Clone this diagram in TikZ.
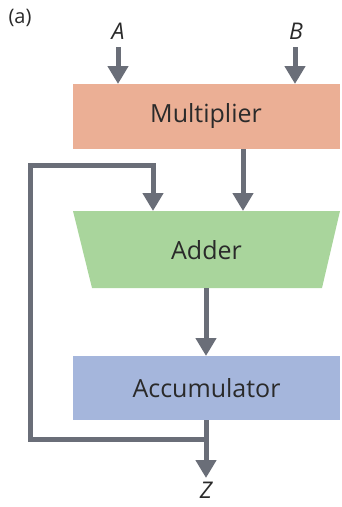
\documentclass[tikz,border=0pt]{standalone}
\usepackage{fontspec}
\setmainfont{Open Sans}
\usetikzlibrary{arrows.meta}
\definecolor{mulc}{HTML}{EBAF95}
\definecolor{addc}{HTML}{A9D59C}
\definecolor{accc}{HTML}{A5B6DC}
\definecolor{linec}{HTML}{6A6E78}
\definecolor{txtc}{HTML}{2A2A2A}
\begin{document}
\begin{tikzpicture}[x=1pt,y=-1pt,
  boxtext/.style={font=\fontsize{25}{29}\selectfont,text=txtc,inner sep=0pt},
  blockbox/.style={boxtext,minimum width=267pt,minimum height=65pt},
  lbl/.style={font=\fontsize{23}{27}\selectfont\itshape,text=txtc,inner sep=0pt},
  conn/.style={draw=linec,line width=5pt},
  arr/.style={conn,-{Triangle[width=20pt,length=18pt]}}]
\useasboundingbox (0,0) rectangle (342,507);
\node[font=\fontsize{20}{24}\selectfont,text=txtc,inner sep=0pt] (tag) at (20,18) {(a)};
\node[lbl] (A) at (118,31) {A};
\node[lbl] (B) at (296,31) {B};
\node[blockbox,fill=mulc] (mul) at (206,116.5) {Multiplier};
\fill[addc] (73,211) -- (340,211) -- (322,288) -- (92,288) -- cycle;
\node[boxtext] (add) at (206.5,250) {Adder};
\coordinate (addtopL) at (153,211);
\coordinate (addtopR) at (243,211);
\coordinate (addbot) at (206,288);
\node[blockbox,fill=accc,minimum height=64pt] (acc) at (206.5,388) {Accumulator};
\node[lbl] (Z) at (206,490) {Z};
\coordinate (zin) at (206,478);
\coordinate (split) at (206,439);
\coordinate (fbBL) at (30,439);
\coordinate (fbTL) at (30,165);
\coordinate (fbTR) at (153,165);
\coordinate (accbot) at (206,420);
\coordinate (acctop) at (206,356);
\draw[arr] (118,47) -- (118,84);
\draw[arr] (295,47) -- (295,84);
\draw[arr] (243,149) -- (addtopR);
\draw[arr] (addbot) -- (acctop);
\draw[arr] (accbot) -- (zin);
\draw[arr,line join=miter] (split) -- (fbBL) -- (fbTL) -- (fbTR) -- (addtopL);
\end{tikzpicture}
\end{document}
